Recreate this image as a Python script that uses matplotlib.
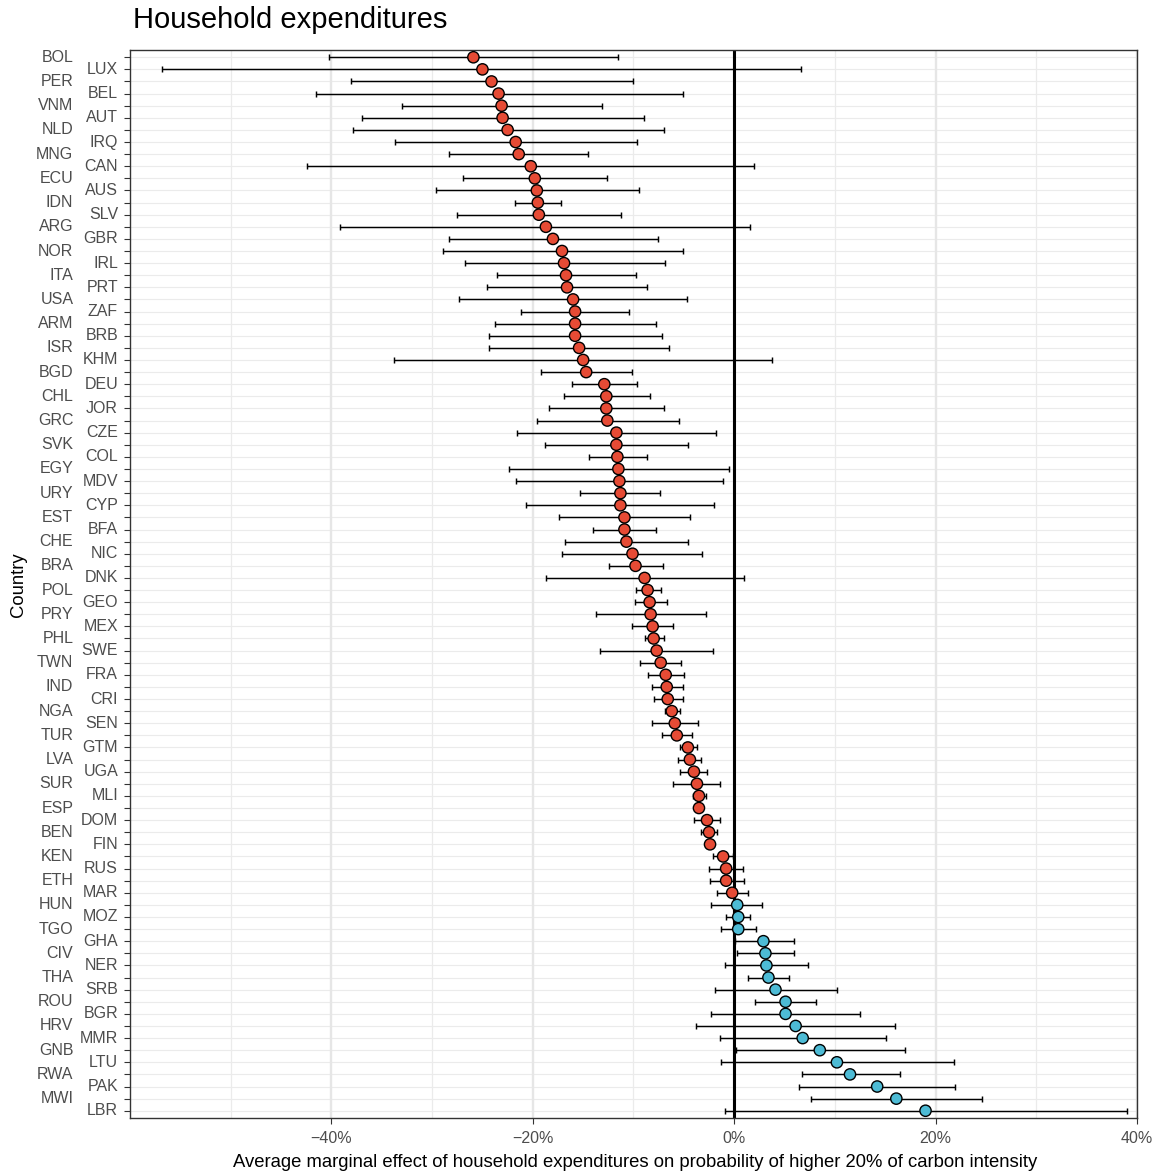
import numpy as np
import matplotlib
matplotlib.use("Agg")
import matplotlib.pyplot as plt
from matplotlib.ticker import FixedLocator, FuncFormatter

plt.rcParams["font.family"] = ["Liberation Sans", "DejaVu Sans"]

countries = [
    "BOL", "LUX", "PER", "BEL", "VNM", "AUT", "NLD", "IRQ", "MNG", "CAN",
    "ECU", "AUS", "IDN", "SLV", "ARG", "GBR", "NOR", "IRL", "ITA", "PRT",
    "USA", "ZAF", "ARM", "BRB", "ISR", "KHM", "BGD", "DEU", "CHL", "JOR",
    "GRC", "CZE", "SVK", "COL", "EGY", "MDV", "URY", "CYP", "EST", "BFA",
    "CHE", "NIC", "BRA", "DNK", "POL", "GEO", "PRY", "MEX", "PHL", "SWE",
    "TWN", "FRA", "IND", "CRI", "NGA", "SEN", "TUR", "GTM", "LVA", "UGA",
    "SUR", "MLI", "ESP", "DOM", "BEN", "FIN", "KEN", "RUS", "ETH", "MAR",
    "HUN", "MOZ", "TGO", "GHA", "CIV", "NER", "THA", "SRB", "ROU", "BGR",
    "HRV", "MMR", "GNB", "LTU", "RWA", "PAK", "MWI", "LBR",
]

# average marginal effect, in percent
estimate = [
    -25.9, -25.0, -24.1, -23.4, -23.1, -23.0, -22.5, -21.7, -21.4, -20.2,
    -19.8, -19.6, -19.5, -19.4, -18.7, -18.0, -17.1, -16.9, -16.7, -16.6,
    -16.0, -15.8, -15.8, -15.8, -15.4, -15.0, -14.7, -12.9, -12.7, -12.7,
    -12.6, -11.7, -11.7, -11.6, -11.5, -11.4, -11.3, -11.3, -10.9, -10.9,
    -10.7, -10.1, -9.8, -8.9, -8.6, -8.4, -8.3, -8.1, -8.0, -7.7,
    -7.3, -6.8, -6.7, -6.6, -6.2, -5.9, -5.7, -4.6, -4.4, -4.0,
    -3.7, -3.5, -3.5, -2.7, -2.5, -2.4, -1.1, -0.8, -0.8, -0.2,
    0.3, 0.4, 0.4, 2.9, 3.1, 3.2, 3.4, 4.1, 5.1, 5.1,
    6.1, 6.8, 8.5, 10.2, 11.5, 14.2, 16.1, 19.0,
]
ci_low = [
    -40.2, -56.8, -38.1, -41.5, -33.0, -37.0, -37.9, -33.7, -28.3, -42.4,
    -26.9, -29.6, -21.8, -27.5, -39.1, -28.3, -28.9, -26.7, -23.6, -24.5,
    -27.3, -21.2, -23.8, -24.3, -24.3, -33.8, -19.2, -16.1, -16.9, -18.4,
    -19.6, -21.6, -18.8, -14.4, -22.4, -21.7, -15.3, -20.7, -17.4, -14.0,
    -16.8, -17.1, -12.4, -18.7, -9.8, -9.9, -13.7, -10.1, -8.9, -13.3,
    -9.4, -8.6, -8.2, -8.0, -6.9, -8.2, -7.2, -5.4, -5.6, -5.4,
    -6.1, -4.1, -3.8, -4.0, -3.3, -2.7, -2.1, -2.5, -2.4, -1.7,
    -2.3, -0.8, -1.3, 0.1, 0.3, -0.9, 1.4, -1.9, 2.1, -2.3,
    -3.8, -1.4, 0.2, -1.3, 6.7, 6.4, 7.6, -0.9,
]
ci_high = [
    -11.5, 6.6, -10.0, -5.1, -13.1, -9.0, -7.0, -9.7, -14.5, 2.0,
    -12.6, -9.5, -17.2, -11.2, 1.6, -7.6, -5.1, -6.9, -9.8, -8.7,
    -4.7, -10.4, -7.8, -7.2, -6.5, 3.8, -10.1, -9.7, -8.4, -7.0,
    -5.5, -1.8, -4.6, -8.7, -0.5, -1.1, -7.4, -2.0, -4.4, -7.8,
    -4.6, -3.2, -7.1, 1.0, -7.3, -6.7, -2.8, -6.1, -7.0, -2.1,
    -5.3, -5.0, -5.1, -5.1, -5.4, -3.6, -4.2, -3.7, -3.3, -2.7,
    -1.4, -2.8, -3.2, -1.4, -1.7, -2.1, -0.1, 0.9, 1.0, 1.4,
    2.8, 1.6, 2.2, 5.9, 5.9, 7.3, 5.4, 10.2, 8.1, 12.5,
    16.0, 15.1, 17.0, 21.8, 16.5, 21.9, 24.6, 39.0,
]

RED = "#E64B35"
BLUE = "#4DBBD5"

est = np.array(estimate)
lo = np.array(ci_low)
hi = np.array(ci_high)
ypos = np.arange(len(countries))
colors = [RED if v < 0 else BLUE for v in est]

fig = plt.figure(figsize=(11.63, 11.74), dpi=100)
ax = fig.add_axes([130 / 1163, 1 - 1118 / 1174, 1007 / 1163, 1068 / 1174])

# grid
for y in ypos:
    ax.axhline(y, color="#EBEBEB", lw=0.8, zorder=0)
for x in [-50, -30, -10, 10, 30]:
    ax.axvline(x, color="#EBEBEB", lw=0.9, zorder=0)
for x in [-40, -20, 0, 20, 40]:
    ax.axvline(x, color="#E6E6E6", lw=1.7, zorder=0)

ax.axvline(0, color="black", lw=2.2, zorder=2)

ax.errorbar(est, ypos, xerr=[est - lo, hi - est], fmt="none", ecolor="black",
            elinewidth=1.05, capsize=2.2, capthick=1.05, zorder=3)
ax.scatter(est, ypos, s=66, c=colors, edgecolors="black", linewidths=1.0, zorder=4)

ax.set_xlim(-60, 40)
ax.set_ylim(len(countries) - 0.4, -0.6)

ax.xaxis.set_major_locator(FixedLocator([-40, -20, 0, 20, 40]))
ax.xaxis.set_major_formatter(FuncFormatter(lambda v, p: f"{v:.0f}%".replace("-", "\u2212")))
ax.tick_params(axis="x", length=4.5, width=0.8, color="#333333", labelsize=11.5,
               labelcolor="#4D4D4D", pad=5)

ax.set_yticks(ypos)
ax.set_yticklabels([])
ax.tick_params(axis="y", length=4.3, width=0.8, color="#333333")
for i, name in enumerate(countries):
    off = -40.8 if i % 2 == 0 else -8.6
    ax.annotate(name, xy=(0, i), xycoords=("axes fraction", "data"),
                xytext=(off, 0), textcoords="offset points",
                ha="right", va="center", fontsize=11.5, color="#4D4D4D")

for sp in ax.spines.values():
    sp.set_color("#333333")
    sp.set_linewidth(1.0)

fig.text(133 / 1163, 1 - 27.7 / 1174, "Household expenditures", fontsize=21,
         ha="left", va="baseline")
fig.text(635 / 1163, 1 - 1167 / 1174,
         "Average marginal effect of household expenditures on probability of higher 20% of carbon intensity",
         fontsize=13.3, ha="center", va="baseline")
fig.text(19 / 1163, 1 - 585 / 1174, "Country", fontsize=13.3, rotation=90,
         ha="center", va="center")

fig.savefig("out.png", dpi=100)
